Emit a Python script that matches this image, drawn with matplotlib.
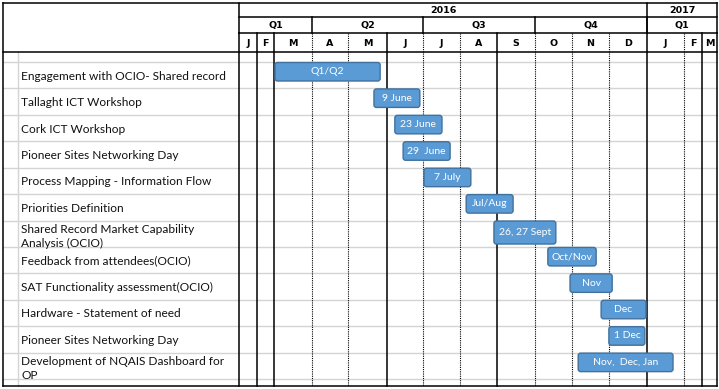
import numpy as np
import matplotlib.pyplot as plt
from matplotlib.patches import FancyBboxPatch

# task list (rows, top to bottom)
tasks = [
    "Engagement with OCIO- Shared record",
    "Tallaght ICT Workshop",
    "Cork ICT Workshop",
    "Pioneer Sites Networking Day",
    "Process Mapping - Information Flow",
    "Priorities Definition",
    "Shared Record Market Capability\nAnalysis (OCIO)",
    "Feedback from attendees(OCIO)",
    "SAT Functionality assessment(OCIO)",
    "Hardware - Statement of need",
    "Pioneer Sites Networking Day",
    "Development of NQAIS Dashboard for\nOP",
]
bar_labels = ["Q1/Q2", "9 June", "23 June", "29  June", "7 July", "Jul/Aug",
              "26, 27 Sept", "Oct/Nov", "Nov", "Dec", "1 Dec", "Nov,  Dec, Jan"]
# start / end in months from 1 Jan 2016
bar_start = [2.0, 4.64, 5.19, 5.42, 6.0, 7.14, 7.89, 9.32, 9.92, 10.76, 10.97, 10.14]
bar_end = [4.85, 5.94, 6.54, 6.76, 7.32, 8.45, 9.59, 10.68, 11.11, 12.0, 11.97, 12.73]

months = ["J", "F", "M", "A", "M", "J", "J", "A", "S", "O", "N", "D", "J", "F", "M"]
quarters = ["Q1", "Q2", "Q3", "Q4", "Q1"]
quarter_months = [0, 3, 6, 9, 12, 15]
years = ["2016", "2017"]
year_months = [0, 12, 15]

# sheet layout (pixel columns of the spreadsheet)
edges_px = [239, 257, 274, 312, 348, 387, 423, 460, 497, 535, 572, 609, 647, 684, 702, 717]
solid_cols = [0, 1, 2, 5, 8, 12, 14, 15]
LEFT, RIGHT, TOP, BOTTOM = 3, 717, 3, 386
ROW1, ROW2, HEAD = 17, 33, 52
BODY0, ROWH = 62, 26.42


def mx(m):
    return np.interp(m, np.arange(len(edges_px)), edges_px)


fig = plt.figure(figsize=(7.19, 3.89), dpi=100)
ax = fig.add_axes([0, 0, 1, 1])
ax.set_xlim(0, 719)
ax.set_ylim(389, 0)
ax.axis("off")

grey = "#d4d4d4"
# body row lines
for i in range(len(tasks) + 1):
    y = BODY0 + i * ROWH
    ax.plot([LEFT, RIGHT], [y, y], color=grey, lw=1.0, zorder=1)
ax.plot([18, 18], [HEAD, BOTTOM], color=grey, lw=1.0, zorder=1)

# month column lines
for i, x in enumerate(edges_px):
    if i in solid_cols:
        ax.plot([x, x], [ROW2, BOTTOM], color="black", lw=1.1, zorder=2)
    else:
        ax.plot([x, x], [ROW2, BOTTOM], color="black", lw=0.8, ls=(0, (1, 1)), zorder=2)

# header lines
ax.plot([LEFT, RIGHT], [TOP, TOP], color="black", lw=1.1)
ax.plot([edges_px[0], RIGHT], [ROW1, ROW1], color="black", lw=1.1)
ax.plot([edges_px[0], RIGHT], [ROW2, ROW2], color="black", lw=1.1)
ax.plot([LEFT, RIGHT], [HEAD, HEAD], color="black", lw=1.1)
ax.plot([LEFT, RIGHT], [BOTTOM, BOTTOM], color="black", lw=1.1)
ax.plot([LEFT, LEFT], [TOP, BOTTOM], color="black", lw=1.1)
ax.plot([edges_px[0], edges_px[0]], [TOP, ROW2], color="black", lw=1.1)
ax.plot([RIGHT, RIGHT], [TOP, ROW2], color="black", lw=1.1)
for m in quarter_months[1:-1]:
    ax.plot([mx(m)] * 2, [ROW1, ROW2], color="black", lw=1.1)
for m in year_months[1:-1]:
    ax.plot([mx(m)] * 2, [TOP, ROW2], color="black", lw=1.1)

hfont = dict(family="DejaVu Sans", fontsize=6.8, fontweight="bold", ha="center", va="center")
for i, lab in enumerate(years):
    ax.text((mx(year_months[i]) + mx(year_months[i + 1])) / 2, (TOP + ROW1) / 2 + 0.5, lab, **hfont)
for i, lab in enumerate(quarters):
    ax.text((mx(quarter_months[i]) + mx(quarter_months[i + 1])) / 2, (ROW1 + ROW2) / 2 + 0.5, lab, **hfont)
for i, lab in enumerate(months):
    ax.text((mx(i) + mx(i + 1)) / 2, (ROW2 + HEAD) / 2 + 1, lab, **hfont)

# task labels and bars
for i, t in enumerate(tasks):
    y0 = BODY0 + i * ROWH
    if "\n" in t:
        ax.text(21, y0 + ROWH / 2 + 3, t, family="Lato", fontsize=8.6, ha="left", va="center",
                linespacing=1.3, color="#111111")
    else:
        ax.text(21, y0 + ROWH / 2 + 1, t, family="Lato", fontsize=8.6, ha="left", va="center",
                color="#111111")
    x0, x1 = mx(bar_start[i]), mx(bar_end[i])
    h = 23 if i == 6 else 18.5
    box = FancyBboxPatch((x0 + 1, y0 + 0.5), x1 - x0 - 2, h,
                         boxstyle="round,pad=0,rounding_size=2.5",
                         facecolor="#5b9bd5", edgecolor="#41719c", lw=1.0, zorder=4)
    ax.add_patch(box)
    ax.text((x0 + x1) / 2, y0 + 0.5 + h / 2, bar_labels[i], family="Lato", fontsize=7.5,
            color="white", ha="center", va="center", zorder=5)

fig.savefig("out.png", dpi=100)
